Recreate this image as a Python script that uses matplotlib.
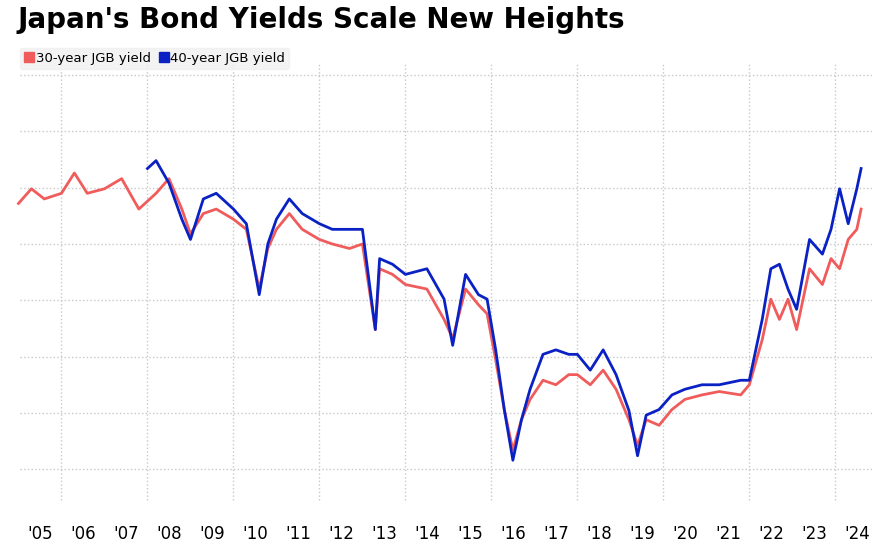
import matplotlib.pyplot as plt
from matplotlib.lines import Line2D

# 30-year JGB yield (%)
yr30 = [2005.0, 2005.3, 2005.6, 2006.0, 2006.3, 2006.6, 2007.0, 2007.4, 2007.8, 2008.2,
        2008.5, 2008.8, 2009.0, 2009.3, 2009.6, 2010.0, 2010.3, 2010.6, 2010.8, 2011.0,
        2011.3, 2011.6, 2012.0, 2012.3, 2012.7, 2013.0, 2013.3, 2013.4, 2013.7, 2014.0,
        2014.5, 2014.9, 2015.1, 2015.4, 2015.7, 2015.9, 2016.1, 2016.3, 2016.5, 2016.7,
        2016.9, 2017.2, 2017.5, 2017.8, 2018.0, 2018.3, 2018.6, 2018.9, 2019.2, 2019.4,
        2019.6, 2019.9, 2020.2, 2020.5, 2020.9, 2021.3, 2021.8, 2022.0, 2022.3, 2022.5,
        2022.7, 2022.9, 2023.1, 2023.4, 2023.7, 2023.9, 2024.1, 2024.3, 2024.5, 2024.6]
y30 = [2.36, 2.49, 2.40, 2.45, 2.63, 2.45, 2.49, 2.58, 2.31, 2.45,
       2.58, 2.31, 2.09, 2.27, 2.31, 2.22, 2.13, 1.60, 1.96, 2.13,
       2.27, 2.13, 2.04, 2.00, 1.96, 2.00, 1.24, 1.78, 1.73, 1.64,
       1.60, 1.33, 1.16, 1.60, 1.46, 1.38, 0.97, 0.53, 0.17, 0.44,
       0.62, 0.79, 0.75, 0.84, 0.84, 0.75, 0.88, 0.71, 0.44, 0.21,
       0.44, 0.39, 0.53, 0.62, 0.66, 0.69, 0.66, 0.75, 1.15, 1.51,
       1.33, 1.51, 1.24, 1.78, 1.64, 1.87, 1.78, 2.04, 2.13, 2.31]

# 40-year JGB yield (%), starts late 2007
yr40 = [2008.0, 2008.2, 2008.5, 2008.8, 2009.0, 2009.3, 2009.6, 2010.0, 2010.3, 2010.6,
        2010.8, 2011.0, 2011.3, 2011.6, 2012.0, 2012.3, 2012.7, 2013.0, 2013.3, 2013.4,
        2013.7, 2014.0, 2014.5, 2014.9, 2015.1, 2015.4, 2015.7, 2015.9, 2016.1, 2016.3,
        2016.5, 2016.7, 2016.9, 2017.2, 2017.5, 2017.8, 2018.0, 2018.3, 2018.6, 2018.9,
        2019.2, 2019.4, 2019.6, 2019.9, 2020.2, 2020.5, 2020.9, 2021.3, 2021.8, 2022.0,
        2022.3, 2022.5, 2022.7, 2022.9, 2023.1, 2023.4, 2023.7, 2023.9, 2024.1, 2024.3,
        2024.5, 2024.6]
y40 = [2.67, 2.74, 2.54, 2.22, 2.04, 2.40, 2.45, 2.31, 2.18, 1.55,
       2.00, 2.22, 2.40, 2.27, 2.18, 2.13, 2.13, 2.13, 1.24, 1.87,
       1.82, 1.73, 1.78, 1.51, 1.10, 1.73, 1.55, 1.51, 1.06, 0.53,
       0.08, 0.44, 0.71, 1.02, 1.06, 1.02, 1.02, 0.88, 1.06, 0.84,
       0.52, 0.12, 0.48, 0.53, 0.66, 0.71, 0.75, 0.75, 0.79, 0.79,
       1.33, 1.78, 1.82, 1.60, 1.42, 2.04, 1.91, 2.13, 2.49, 2.18,
       2.49, 2.67]

year_ticks = [y + 0.5 for y in range(2005, 2025)]
year_labels = ["'%02d" % (y % 100) for y in range(2005, 2025)]
grid_years = list(range(2006, 2025, 2))
grid_levels = [0, 0.5, 1, 1.5, 2, 2.5, 3, 3.5]

red = '#f05c5c'
blue = '#0a22c4'
gridc = '#c8c8c8'

fig = plt.figure(figsize=(8.74, 5.45), dpi=100)
ax = fig.add_axes([0.0, 0.046, 1.0, 0.837])

ax.plot(yr30, y30, color=red, lw=2.0)
ax.plot(yr40, y40, color=blue, lw=2.0)

ax.set_xlim(2004.57, 2024.9)
ax.set_ylim(-0.45, 3.6)
ax.set_xticks(year_ticks)
ax.set_xticklabels(year_labels, fontsize=12)
ax.set_yticks([])
ax.tick_params(axis='x', length=0, pad=4)
for lv in grid_levels:
    ax.axhline(lv, xmin=0.023, color=gridc, ls=':', lw=1, zorder=0)
for g in grid_years:
    ax.axvline(g, ymin=0.043, ymax=1.0, color=gridc, ls=':', lw=1, zorder=0)
for s in ax.spines.values():
    s.set_visible(False)

fig.text(0.02, 0.963, "Japan's Bond Yields Scale New Heights", fontsize=20,
         fontweight='heavy', va='center')
handles = [Line2D([], [], color=red, marker='s', ls='', markersize=7),
           Line2D([], [], color=blue, marker='s', ls='', markersize=7)]
fig.legend(handles, ['30-year JGB yield', '40-year JGB yield'], loc='center left',
           bbox_to_anchor=(0.015, 0.893), ncol=2, frameon=True, fontsize=9.5,
           handletextpad=0.1, columnspacing=0.6, edgecolor='#f0f0f0',
           facecolor='#f0f0f0', borderpad=0.3, handlelength=0.8)

fig.savefig('out.png', dpi=100)
